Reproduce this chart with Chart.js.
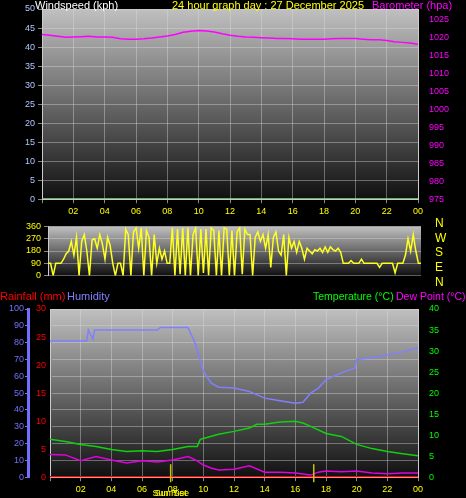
<!DOCTYPE html>
<html><head><meta charset="utf-8">
<script src="https://cdn.jsdelivr.net/npm/chart.js@4"></script>
<style>
body{margin:0;background:#000;width:466px;height:498px;overflow:hidden;position:relative;font-family:"Liberation Sans",sans-serif}
.c{position:absolute;left:0;width:466px}
.t{position:absolute;font-size:11px;white-space:nowrap;line-height:12px}
</style></head><body>
<div class="c" style="top:0;height:220px"><canvas id="c1"></canvas></div>
<div class="c" style="top:218px;height:66px"><canvas id="c2"></canvas></div>
<div class="c" style="top:300px;height:198px"><canvas id="c3"></canvas></div>
<div class="t" style="left:35px;top:-1px;color:#fff">Windspeed (kph)</div>
<div class="t" style="left:172px;top:-1px;color:#ff0">24 hour graph day : 27 December 2025</div>
<div class="t" style="left:372px;top:-1px;color:#f0f">Barometer (hpa)</div>
<div class="t" style="left:0;top:290px;color:#f00">Rainfall (mm)</div>
<div class="t" style="left:67px;top:290px;color:#8080ff">Humidity</div>
<div class="t" style="left:313px;top:290px;color:#0f0;font-size:10.5px">Temperature (°C)</div>
<div class="t" style="left:396px;top:290px;color:#f0f;font-size:10.5px">Dew Point (°C)</div>
<div class="t" style="left:435px;top:216px;color:#ff0;font-size:12px;line-height:14.7px">N<br>W<br>S<br>E<br>N</div>
<script>
const baroVals=[1020.9,1020.7,1020.4,1020.1,1020.2,1020.3,1020.4,1020.2,1020.2,1020.1,1019.7,1019.6,1019.6,1019.7,1019.9,1020.2,1020.5,1020.9,1021.5,1021.8,1022.0,1021.9,1021.6,1021.1,1020.7,1020.4,1020.2,1020.1,1020.0,1019.9,1019.8,1019.8,1019.7,1019.6,1019.6,1019.6,1019.6,1019.7,1019.8,1019.8,1019.8,1019.6,1019.4,1019.4,1019.2,1018.9,1018.7,1018.5,1018.2];
const windDir=[
90,90,0,90,90,90, 120,160,180,250,150,280, 0,250,300,180,0,260,
270,200,300,230,120,280, 220,90,0,90,90,0, 340,300,0,320,350,200,
350,0,330,280,0,300, 90,200,120,180,90,90, 350,0,340,10,350,0,
350,0,300,350,0,340, 20,340,0,350,330,0, 330,0,350,340,0,330,
0,320,350,10,340,300, 300,0,280,320,250,300, 200,300,60,280,320,180,
150,300,0,280,200,250, 170,250,200,120,200,180, 160,190,180,200,170,210,
170,210,190,180,200,170, 90,90,90,110,90,90, 90,120,90,90,90,90,
90,90,60,90,90,90, 90,90,20,90,90,90, 150,270,180,300,180,90, 90];
const humT=[0,2.4,2.5,2.8,2.9,3.5,7,7.2,9,9.5,10,10.5,11,12,13,14,15,16,16.5,17,17.5,18,19,19.9,20,21,22,23,24];
const humV=[81,81,87.5,82,87.5,87.5,87.5,89,89,79,63,56,53.5,53,51,47,45.5,44,44.5,50,53,58,62,65,70,71,72.7,74.5,77];
const tT=[0,1,2,3,4,5,6,7,8,9,9.6,9.8,10,11,12,13,13.5,14,15,16,16.5,17,18,19,20,21,22,23,24];
const tempV=[9.0,8.5,7.8,7.3,6.6,6.1,6.3,6.1,6.6,7.3,7.3,9.0,9.2,10.2,10.9,11.7,12.6,12.6,13.1,13.3,12.9,12.1,10.4,9.7,7.8,6.8,6.1,5.6,5.1];
const dT=[0,1,2,3,4,5,6,7,8,9,9.5,10,10.5,11,12,13,14,15,16,17,17.5,18,19,20,21,22,23,24];
const dewV=[5.4,5.3,3.9,4.9,4.1,3.4,3.9,3.6,4.1,4.9,4.1,2.9,2.2,1.7,1.9,2.7,1.2,1.2,1.0,0.5,1.2,1.5,1.3,1.5,1.0,0.8,1.0,1.0];
const rainT=[0,24], rainV=[0,0];
const windSpT=[0,24], windSpV=[0,0];
const sunRise=7.87, sunSet=17.2;

const pts=(t,v)=>v.map((y,i)=>({x:t[i],y}));
const idxT=(n,step)=>Array.from({length:n},(_,i)=>i*step);
const F={family:"Liberation Sans",size:9};
const xTick=v=>v===0?'':String(v%24).padStart(2,'0');
const bg={id:'bg',beforeDraw(c){const a=c.chartArea,x=c.ctx;const g=x.createLinearGradient(0,a.top,0,a.bottom);g.addColorStop(0,'#c0c0c0');g.addColorStop(1,'#101010');x.save();x.fillStyle=g;x.fillRect(a.left,a.top,a.right-a.left,a.bottom-a.top);x.restore();}};
const grid={color:'rgba(220,220,220,0.4)',borderDash:[2,2],drawTicks:true,tickLength:4,tickColor:'#888'};
function fix(w){return {afterFit(s){s.width=w;}};}
const base={responsive:true,maintainAspectRatio:false,animation:false,plugins:{legend:{display:false},tooltip:{enabled:false}},elements:{point:{radius:0},line:{tension:0}}};

new Chart(c1,{type:'line',data:{datasets:[
 {data:pts(windSpT,windSpV),borderColor:'#90e090',borderWidth:2,yAxisID:'y'},
 {data:pts(idxT(baroVals.length,0.5),baroVals),borderColor:'#ff00ff',borderWidth:1.5,yAxisID:'y2'}]},
 options:{...base,layout:{padding:{top:9}},scales:{
  x:{type:'linear',min:0,max:24,ticks:{stepSize:2,callback:xTick,color:'#ff0',font:F,maxRotation:0},grid:grid,border:{color:'#ccc'}},
  y:{min:0,max:50,ticks:{stepSize:5,autoSkip:false,color:'#b0c8ff',font:F},grid:grid,border:{color:'#ccc'},...fix(42)},
  y2:{position:'right',min:975,max:1028,ticks:{stepSize:5,autoSkip:false,color:'#ff00ff',font:F,callback:v=>v%5===0?v:''},grid:{display:false},border:{color:'#ccc'},...fix(48)}}},plugins:[bg]});

new Chart(c2,{type:'line',data:{datasets:[
 {data:pts(idxT(windDir.length,1/6),windDir),borderColor:'#ffff20',borderWidth:1.5,yAxisID:'y'}]},
 options:{...base,layout:{padding:{top:4,bottom:1,right:45}},scales:{
  x:{type:'linear',min:0,max:24,display:false},
  y:{min:0,max:360,ticks:{stepSize:90,autoSkip:false,color:'#ff0',font:F},grid:{...grid},border:{color:'#ccc'},...fix(48)}}},plugins:[bg]});

const sun={id:'sun',afterDatasetsDraw(c){const x=c.ctx,s=c.scales.x;x.save();x.strokeStyle='#d0c000';x.lineWidth=1.5;[sunRise,sunSet].forEach(h=>{const p=s.getPixelForValue(h);x.beginPath();x.moveTo(p,c.chartArea.bottom-13);x.lineTo(p,c.chartArea.bottom+5);x.stroke();});
 x.fillStyle='#ff0';x.font='9px "Liberation Sans"';x.textAlign='center';x.textBaseline='top';const p=s.getPixelForValue(sunRise);x.fillText('Sun Rise',p,c.chartArea.bottom+12);x.fillText('Sun Set',p,c.chartArea.bottom+12);x.restore();}};
new Chart(c3,{type:'line',data:{datasets:[
 {data:pts(humT,humV),borderColor:'#8080ff',borderWidth:1.5,yAxisID:'yh'},
 {data:pts(tT,tempV),borderColor:'#10d010',borderWidth:1.5,yAxisID:'yt'},
 {data:pts(dT,dewV),borderColor:'#e000e0',borderWidth:1.5,yAxisID:'yt'},
 {data:pts(rainT,rainV),borderColor:'#ff0000',borderWidth:2.5,yAxisID:'yr'}]},
 options:{...base,layout:{padding:{top:9}},scales:{
  x:{type:'linear',min:0,max:24,ticks:{stepSize:2,callback:xTick,color:'#ff0',font:F,maxRotation:0},grid:grid,border:{color:'#ccc'}},
  yr:{min:0,max:30,ticks:{stepSize:5,autoSkip:false,color:'#ff0000',font:F,padding:1},grid:{display:false,tickColor:'#f00',tickLength:3},border:{color:'#ccc'},...fix(22)},
  yh:{min:0,max:100,ticks:{stepSize:10,autoSkip:false,color:'#7070ff',font:F,padding:1},grid:{...grid,tickLength:3},border:{color:'#7070ff',width:3},...fix(28)},
  yt:{position:'right',min:0,max:40,ticks:{stepSize:5,autoSkip:false,color:'#00ff00',font:F},grid:{display:false,tickColor:'#0f0'},border:{color:'#ccc'},...fix(48)}}},plugins:[bg,sun]});
</script></body></html>
